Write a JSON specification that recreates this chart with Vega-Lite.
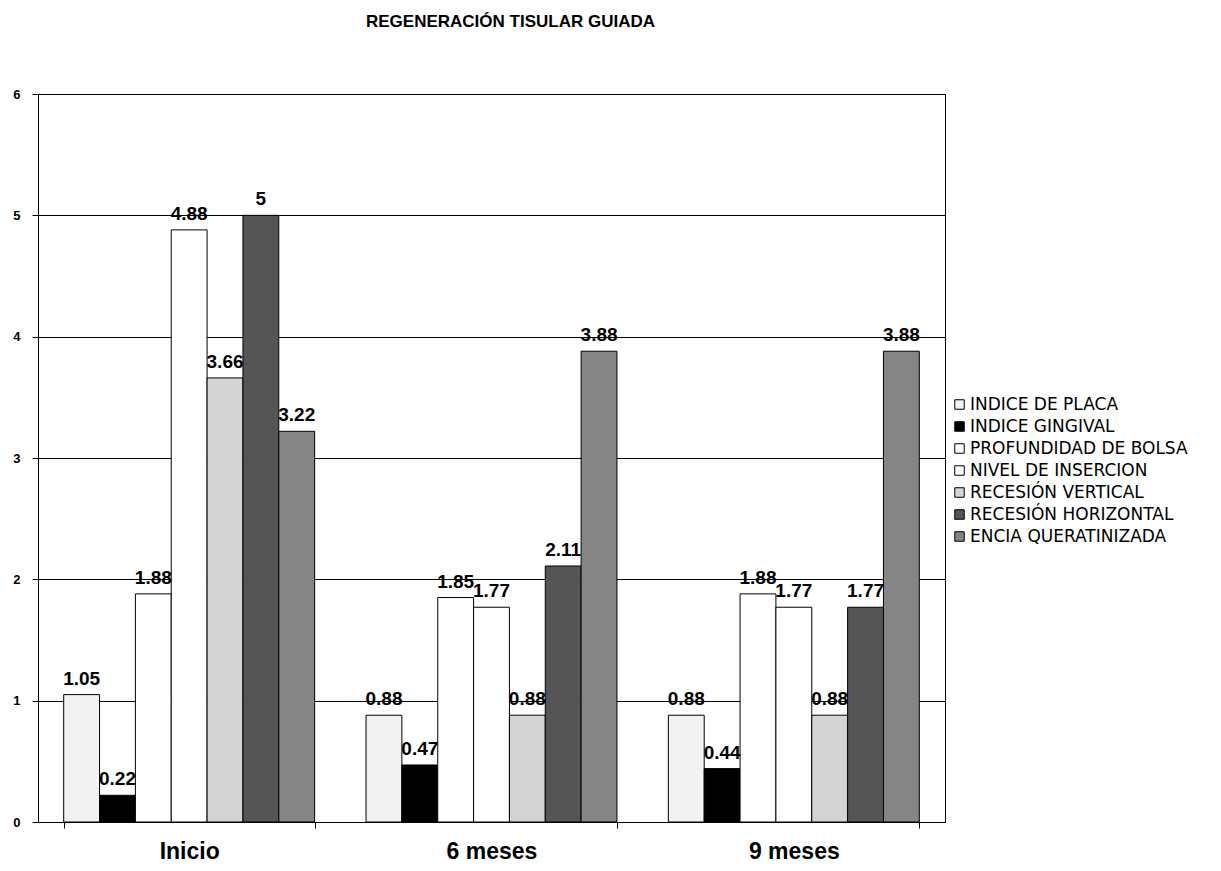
{
  "$schema": "https://vega.github.io/schema/vega-lite/v6.json",
  "autosize": {"type": "none"},
  "padding": {"left": 38, "top": 94, "right": 276, "bottom": 49},
  "width": 907,
  "height": 728,
  "background": "white",
  "config": {
    "font": "Liberation Sans",
    "view": {"stroke": "black", "strokeWidth": 1}
  },
  "title": {
    "text": "REGENERACIÓN TISULAR GUIADA",
    "fontSize": 17,
    "fontWeight": "bold",
    "font": "Liberation Sans",
    "color": "black",
    "anchor": "middle",
    "offset": 57,
    "dx": 19
  },
  "data": {
    "values": [
      {"periodo": "Inicio", "serie": "INDICE DE PLACA", "valor": 1.05},
      {"periodo": "Inicio", "serie": "INDICE GINGIVAL", "valor": 0.22},
      {"periodo": "Inicio", "serie": "PROFUNDIDAD DE BOLSA", "valor": 1.88},
      {"periodo": "Inicio", "serie": "NIVEL DE INSERCION", "valor": 4.88},
      {"periodo": "Inicio", "serie": "RECESIÓN VERTICAL", "valor": 3.66},
      {"periodo": "Inicio", "serie": "RECESIÓN HORIZONTAL", "valor": 5},
      {"periodo": "Inicio", "serie": "ENCIA QUERATINIZADA", "valor": 3.22},
      {"periodo": "6 meses", "serie": "INDICE DE PLACA", "valor": 0.88},
      {"periodo": "6 meses", "serie": "INDICE GINGIVAL", "valor": 0.47},
      {"periodo": "6 meses", "serie": "PROFUNDIDAD DE BOLSA", "valor": 1.85},
      {"periodo": "6 meses", "serie": "NIVEL DE INSERCION", "valor": 1.77},
      {"periodo": "6 meses", "serie": "RECESIÓN VERTICAL", "valor": 0.88},
      {"periodo": "6 meses", "serie": "RECESIÓN HORIZONTAL", "valor": 2.11},
      {"periodo": "6 meses", "serie": "ENCIA QUERATINIZADA", "valor": 3.88},
      {"periodo": "9 meses", "serie": "INDICE DE PLACA", "valor": 0.88},
      {"periodo": "9 meses", "serie": "INDICE GINGIVAL", "valor": 0.44},
      {"periodo": "9 meses", "serie": "PROFUNDIDAD DE BOLSA", "valor": 1.88},
      {"periodo": "9 meses", "serie": "NIVEL DE INSERCION", "valor": 1.77},
      {"periodo": "9 meses", "serie": "RECESIÓN VERTICAL", "valor": 0.88},
      {"periodo": "9 meses", "serie": "RECESIÓN HORIZONTAL", "valor": 1.77},
      {"periodo": "9 meses", "serie": "ENCIA QUERATINIZADA", "valor": 3.88}
    ]
  },
  "encoding": {
    "x": {
      "field": "periodo",
      "type": "nominal",
      "sort": ["Inicio", "6 meses", "9 meses"],
      "scale": {"paddingInner": 0.17, "paddingOuter": 0.085},
      "axis": {
        "title": null,
        "labelAngle": 0,
        "labelFontSize": 23,
        "labelFontWeight": "bold",
        "labelColor": "black",
        "labelPadding": 12,
        "domainColor": "black",
        "tickColor": "black",
        "tickBand": "extent",
        "tickSize": 6
      }
    },
    "xOffset": {
      "field": "serie",
      "type": "nominal",
      "sort": ["INDICE DE PLACA", "INDICE GINGIVAL", "PROFUNDIDAD DE BOLSA", "NIVEL DE INSERCION", "RECESIÓN VERTICAL", "RECESIÓN HORIZONTAL", "ENCIA QUERATINIZADA"],
      "scale": {"paddingInner": 0, "paddingOuter": 0}
    },
    "y": {
      "field": "valor",
      "type": "quantitative",
      "scale": {"domain": [0, 6], "nice": false},
      "axis": {
        "title": null,
        "values": [0, 1, 2, 3, 4, 5, 6],
        "format": "d",
        "labelFontSize": 13,
        "labelFontWeight": "bold",
        "labelColor": "black",
        "labelPadding": 12,
        "grid": true,
        "gridColor": "black",
        "gridOpacity": 1,
        "domainColor": "black",
        "tickColor": "black",
        "tickSize": 6
      }
    }
  },
  "layer": [
    {
      "mark": {"type": "bar", "stroke": "black", "strokeWidth": 1},
      "encoding": {
        "fill": {
          "field": "serie",
          "type": "nominal",
          "sort": ["INDICE DE PLACA", "INDICE GINGIVAL", "PROFUNDIDAD DE BOLSA", "NIVEL DE INSERCION", "RECESIÓN VERTICAL", "RECESIÓN HORIZONTAL", "ENCIA QUERATINIZADA"],
          "scale": {
            "domain": ["INDICE DE PLACA", "INDICE GINGIVAL", "PROFUNDIDAD DE BOLSA", "NIVEL DE INSERCION", "RECESIÓN VERTICAL", "RECESIÓN HORIZONTAL", "ENCIA QUERATINIZADA"],
            "range": ["#f2f2f2", "#000000", "#ffffff", "#ffffff", "#d4d4d4", "#555555", "#858585"]
          },
          "legend": {
            "title": null,
            "orient": "none",
            "legendX": 913,
            "legendY": 302,
            "symbolType": "square",
            "symbolSize": 90,
            "symbolStrokeColor": "black",
            "symbolStrokeWidth": 1,
            "labelFont": "DejaVu Sans",
            "labelFontSize": 17,
            "labelLimit": 400,
            "labelColor": "black",
            "labelOffset": 2,
            "rowPadding": 4
          }
        }
      }
    },
    {
      "mark": {"type": "text", "baseline": "bottom", "dy": -6, "fontSize": 19, "fontWeight": "bold", "color": "black"},
      "encoding": {
        "text": {"field": "valor", "type": "quantitative"}
      }
    }
  ]
}
